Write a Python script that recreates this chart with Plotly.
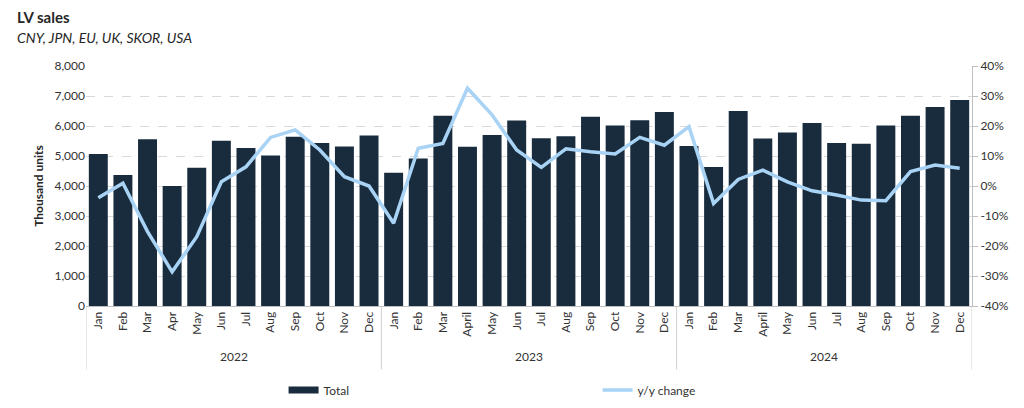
import plotly.graph_objects as go

years = ["2022"] * 12 + ["2023"] * 12 + ["2024"] * 12
months = (["Jan", "Feb", "Mar", "Apr", "May", "Jun", "Jul", "Aug", "Sep", "Oct", "Nov", "Dec"]
          + ["Jan", "Feb", "Mar", "April", "May", "Jun", "Jul", "Aug", "Sep", "Oct", "Nov", "Dec"]
          + ["Jan", "Feb", "Mar", "April", "May", "Jun", "Jul", "Aug", "Sep", "Oct", "Nov", "Dec"])

total = [5070, 4370, 5560, 4000, 4610, 5510, 5270, 5020, 5640, 5430, 5320, 5680,
         4440, 4920, 6340, 5310, 5700, 6180, 5590, 5660, 6310, 6020, 6190, 6470,
         5330, 4630, 6500, 5580, 5780, 6100, 5430, 5410, 6020, 6340, 6630, 6870]

yoy = [-3.9, 0.9, -15.2, -28.6, -16.9, 1.4, 6.4, 16.2, 18.7, 12.0, 3.1, 0.0,
       -12.4, 12.6, 14.2, 32.6, 23.7, 12.0, 6.2, 12.4, 11.4, 10.7, 16.2, 13.6,
       19.8, -5.8, 2.2, 5.3, 1.4, -1.6, -3.0, -4.7, -4.9, 4.8, 7.0, 5.9]

left_ticks = [0, 1000, 2000, 3000, 4000, 5000, 6000, 7000, 8000]
right_ticks = [-40, -30, -20, -10, 0, 10, 20, 30, 40]

FONT = "Lato"
TXT = "#333333"
BAR = "#182c3d"
LINE = "#a9d3f5"
DIV = "#d0d0d0"

idx = list(range(len(months)))

fig = go.Figure()
fig.add_trace(go.Bar(x=idx, y=total, name="Total", showlegend=False,
                     marker=dict(color=BAR, line=dict(width=0))))
# legend swatch for bars (wide rectangle as in the reference)
fig.add_trace(go.Scatter(x=[None], y=[None], name="Total", mode="lines",
                         line=dict(color=BAR, width=7)))
fig.add_trace(go.Scatter(x=idx, y=yoy, name="y/y change", yaxis="y2",
                         mode="lines", line=dict(color=LINE, width=3.5)))

fig.update_layout(
    width=1008, height=392,
    margin=dict(l=78, r=44, t=58, b=94, autoexpand=False),
    paper_bgcolor="white", plot_bgcolor="white",
    font=dict(family=FONT, size=12, color=TXT),
    bargap=0.23,
    showlegend=True,
    legend=dict(orientation="h", x=0.223, y=-0.35, xanchor="left", yanchor="middle",
                entrywidth=269, entrywidthmode="pixels",
                font=dict(size=12, color=TXT), traceorder="normal"),
    xaxis=dict(range=[-0.5, len(months) - 0.5], tickvals=idx, ticktext=months,
               tickangle=-90, showline=True, linecolor="#bfbfbf", automargin=False,
               linewidth=1, ticks="", showgrid=False, zeroline=False,
               tickfont=dict(size=12, color=TXT)),
    yaxis=dict(range=[0, 8000], tickvals=left_ticks, tickformat=",d", automargin=False,
               showgrid=True, gridcolor="#d9d9d9", griddash="dash", gridwidth=1,
               zeroline=False, showline=False, ticks="",
               title=dict(text="<b>Thousand units</b>", font=dict(size=12, color="#262626"), standoff=8),
               tickfont=dict(size=12, color=TXT)),
    yaxis2=dict(range=[-40, 40], tickvals=right_ticks, automargin=False,
                ticktext=[f"{v}%" for v in right_ticks], overlaying="y",
                side="right", showgrid=False, zeroline=False, showline=True,
                linecolor="#bfbfbf", ticks="outside", tickcolor="#bfbfbf", ticklen=5,
                tickfont=dict(size=12, color=TXT)),
)

# year group labels and dividers
groups = []
for i, yv in enumerate(years):
    if not groups or groups[-1][0] != yv:
        groups.append([yv, i, i])
    else:
        groups[-1][2] = i
bounds = set()
for yv, a, b in groups:
    fig.add_annotation(text=yv, x=(a + b) / 2, xref="x", y=-0.21, yref="paper",
                       showarrow=False, font=dict(size=12, color=TXT), yanchor="middle")
    bounds.add(a - 0.5)
    bounds.add(b + 0.5)
for xb in sorted(bounds):
    fig.add_shape(type="line", x0=xb, x1=xb, xref="x", y0=0, y1=-0.265, yref="paper",
                  line=dict(color=DIV, width=1))

fig.add_annotation(text="<b>LV sales</b>", xref="paper", yref="paper", x=-0.08, y=1.205,
                   xanchor="left", yanchor="middle", showarrow=False,
                   font=dict(size=15, color="#262626", family=FONT))
fig.add_annotation(text="<i>CNY, JPN, EU, UK, SKOR, USA</i>", xref="paper", yref="paper",
                   x=-0.08, y=1.12, xanchor="left", yanchor="middle", showarrow=False,
                   font=dict(size=14, color="#262626", family=FONT))

fig.write_html("out.html")
